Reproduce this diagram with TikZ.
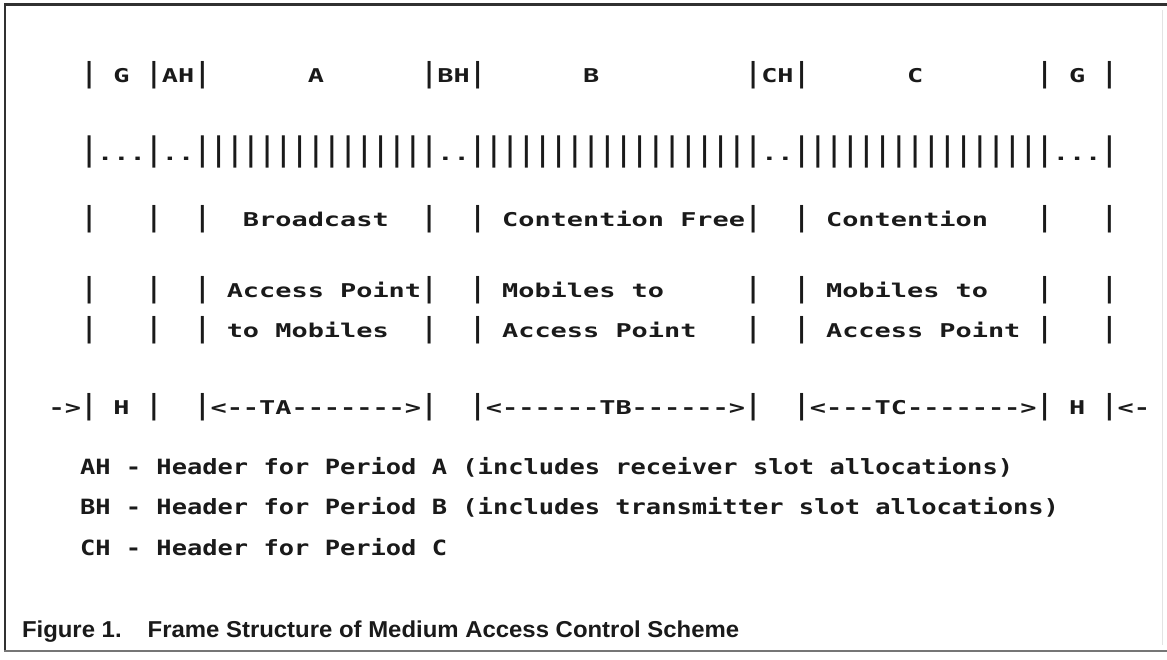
\documentclass[tikz,border=0pt]{standalone}
\usepackage{fontspec}
\usepackage{graphicx}
\setmonofont[FakeStretch=1.416,BoldFont={DejaVu Sans Mono Bold}]{DejaVu Sans Mono}
\newfontfamily\tmono[FakeStretch=1.21,BoldFont={DejaVu Sans Mono Bold}]{DejaVu Sans Mono}
\newfontfamily\capfont[FakeStretch=1.04]{Liberation Sans}
\newcommand\vb{\scalebox{1}[1.45]{|}}
\newcommand\VB{\scalebox{1}[1.7]{|}}
\definecolor{ink}{HTML}{1A1A1A}
\tikzset{
  row/.style={anchor=base west,inner sep=0pt,outer sep=0pt,text=ink,
    font=\ttfamily\bfseries\fontsize{19}{19}\selectfont},
  note/.style={anchor=base west,inner sep=0pt,outer sep=0pt,text=ink,
    font=\tmono\bfseries\fontsize{21}{21}\selectfont},
  capt/.style={anchor=base west,inner sep=0pt,outer sep=0pt,text=ink,
    font=\capfont\bfseries\fontsize{23}{23}\selectfont},
}
\begin{document}
\begin{tikzpicture}[x=1pt,y=-1pt]
\useasboundingbox (0,0) rectangle (1167,659);
\fill[white] (0,0) rectangle (1167,659);
% frame
\draw[line width=2.5pt,ink!90] (4,4.5) -- (1167,4.5);
\draw[line width=2pt,ink!90] (5,4) -- (5,651);
\draw[line width=1.5pt,ink!60] (4,651) -- (1167,651);
\draw[line width=1pt,ink!12] (1162,10) -- (1162,645);
% diagram rows
\node[row] (r1) at (81,82) {\vb{}~G~\vb{}AH\vb{}~~~~~~A~~~~~~\vb{}BH\vb{}~~~~~~B~~~~~~~~~\vb{}CH\vb{}~~~~~~C~~~~~~~\vb{}~G~\vb{}};
\node[row] (r2) at (81,160) {\VB{}...\VB{}..\VB\VB\VB\VB\VB\VB\VB\VB\VB\VB\VB\VB\VB\VB\VB{}..\VB\VB\VB\VB\VB\VB\VB\VB\VB\VB\VB\VB\VB\VB\VB\VB\VB\VB{}..\VB\VB\VB\VB\VB\VB\VB\VB\VB\VB\VB\VB\VB\VB\VB\VB{}...\VB{}};
\node[row] (r3) at (81,226) {\vb{}~~~\vb{}~~\vb{}~~Broadcast~~\vb{}~~\vb{}~Contention~Free\vb{}~~\vb{}~Contention~~~\vb{}~~~\vb{}};
\node[row] (r4) at (81,297) {\vb{}~~~\vb{}~~\vb{}~Access~Point\vb{}~~\vb{}~Mobiles~to~~~~~\vb{}~~\vb{}~Mobiles~to~~~\vb{}~~~\vb{}};
\node[row] (r5) at (81,337) {\vb{}~~~\vb{}~~\vb{}~to~Mobiles~~\vb{}~~\vb{}~Access~Point~~~\vb{}~~\vb{}~Access~Point~\vb{}~~~\vb{}};
\node[row] (r6) at (48.6,414) {->\vb{}~H~\vb{}~~\vb{}<--TA------->\vb{}~~\vb{}<------TB------>\vb{}~~\vb{}<---TC------->\vb{}~H~\vb{}<-};
% legend
\node[note] (n1) at (80,474) {AH - Header for Period A (includes receiver slot allocations)};
\node[note] (n2) at (80,514) {BH - Header for Period B (includes transmitter slot allocations)};
\node[note] (n3) at (80,555) {CH - Header for Period C};
% caption
\node[capt] (cap) at (22,637) {Figure 1.\hspace{26pt}Frame Structure of Medium Access Control Scheme};
\end{tikzpicture}
\end{document}
